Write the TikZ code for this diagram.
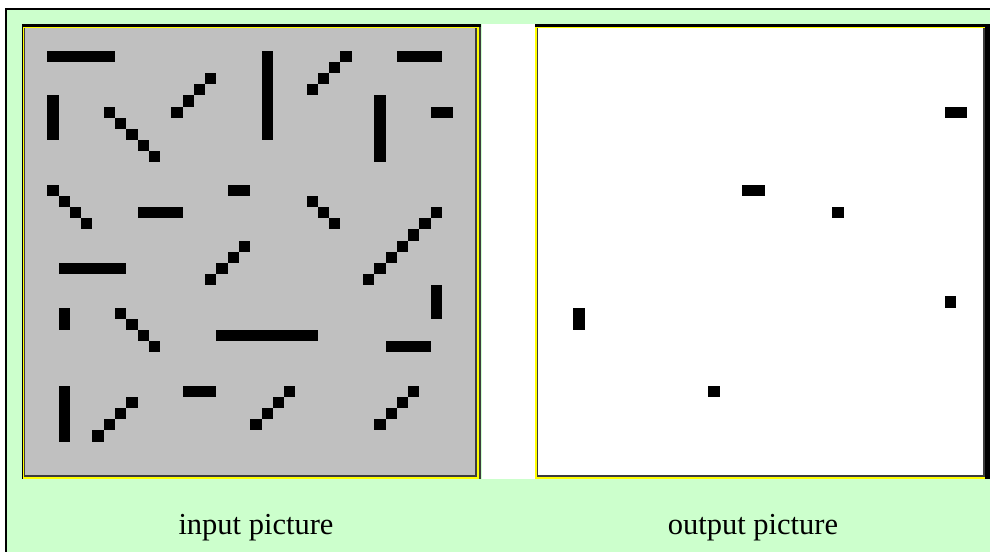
\documentclass[tikz,border=0pt]{standalone}
\usepackage{fontspec}
\setmainfont{Liberation Serif}
\definecolor{mint}{HTML}{CCFFCC}
\definecolor{panelgray}{HTML}{C0C0C0}
\definecolor{rimdark}{HTML}{3C3C3C}
\definecolor{rimyellow}{HTML}{FFFF00}
\begin{document}
\begin{tikzpicture}[x=1pt,y=-1pt,
  pix/.style={fill=black},
  caption/.style={anchor=base,inner sep=0pt,font=\fontsize{30.5}{36}\selectfont}]
\useasboundingbox (0,0) rectangle (990,552);
\fill[white] (0,0) rectangle (990,552);

% outer table frame
\fill[mint] (6,9) rectangle (990,552);
\fill[black] (5,8.3) rectangle (990,10);
\fill[black] (5,8.3) rectangle (7.3,552);

% gap between the two cells
\fill[white] (481.5,24) rectangle (535,478.7);

% ---- left panel frame ----
\fill[rimyellow] (21.7,24) rectangle (480.7,478.7);
\fill[black] (21.7,24) rectangle (480.7,26.7);
\fill[black] (21.7,24) rectangle (22.8,478.7);
\fill[rimdark] (479.3,26.7) rectangle (480.7,478.7);
\fill[rimdark] (24,28.3) rectangle (477.3,476.7);
\fill[panelgray] (25,28.3) rectangle (475.2,475);

% ---- right panel frame ----
\fill[rimyellow] (535,24) rectangle (990,478.7);
\fill[black] (535,24) rectangle (990,26.8);
\fill[rimdark] (536.7,28.3) rectangle (990,476.7);
\fill[white] (538.3,28.3) rectangle (983,475);
\fill[black] (985,24) rectangle (990,478.7);

% ---- input picture: line segments on a 40 x 40 grid ----
\begin{scope}[shift={(24.75,28.37)},x=11.276pt,y=-11.167pt]
  % horizontal and vertical bars: (first col,first row) to (last col+1,last row+1)
  \foreach \a/\b/\c/\d in {2/2/8/3, 2/6/3/10, 21/2/22/10, 33/2/37/3, 31/6/32/12,
      36/7/38/8, 10/16/14/17, 18/14/20/15, 3/21/9/22, 3/25/4/27, 17/27/26/28,
      36/23/37/26, 32/28/36/29, 3/32/4/37, 14/32/17/33}
    \fill[pix] (\a,\b) rectangle (\c,\d);
  % diagonal segments, cell by cell
  \foreach \c/\r in {7/7,8/8,9/9,10/10,11/11,
      13/7,14/6,15/5,16/4,
      25/5,26/4,27/3,28/2,
      2/14,3/15,4/16,5/17,
      25/15,26/16,27/17,
      30/22,31/21,32/20,33/19,34/18,35/17,36/16,
      16/22,17/21,18/20,19/19,
      8/25,9/26,10/27,11/28,
      6/36,7/35,8/34,9/33,
      20/35,21/34,22/33,23/32,
      31/35,32/34,33/33,34/32}
    \fill[pix] (\c,\r) rectangle ++(1,1);
\end{scope}

% ---- output picture ----
\begin{scope}[shift={(539.5,28.37)},x=11.26pt,y=-11.167pt]
  \foreach \a/\b/\c/\d in {36/7/38/8, 18/14/20/15, 26/16/27/17, 3/25/4/27,
      15/32/16/33, 36/24/37/25}
    \fill[pix] (\a,\b) rectangle (\c,\d);
\end{scope}

% captions
\node[caption] (inlabel) at (256,534) {input picture};
\node[caption] (outlabel) at (753,534) {output picture};
\end{tikzpicture}
\end{document}
